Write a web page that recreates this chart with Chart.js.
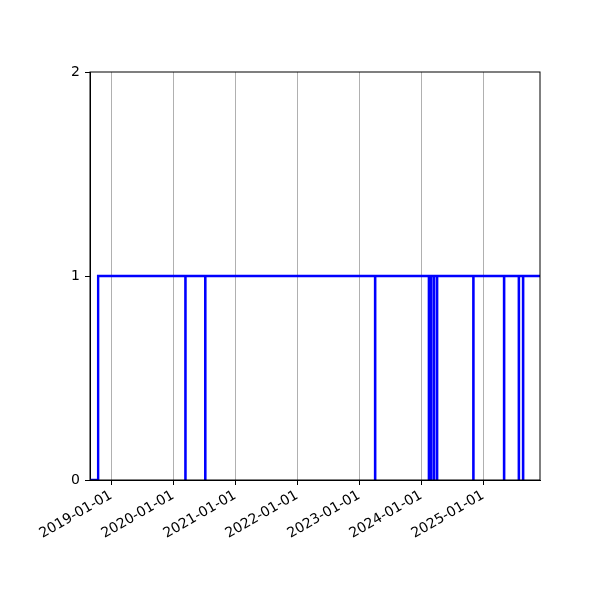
<!DOCTYPE html>
<html>
<head>
<meta charset="utf-8">
<script src="https://cdn.jsdelivr.net/npm/chart.js@4"></script>
<style>
  html, body { margin: 0; padding: 0; background: #fff; }
</style>
</head>
<body>
<canvas id="stepChart" width="600" height="600"></canvas>
<script>
// step series: value holds from each date until the next one
const stepDates = [
  '2018-08-29', '2018-10-16',
  '2020-03-13', '2020-03-14',
  '2020-07-08', '2020-07-09',
  '2023-04-05', '2023-04-06',
  '2024-02-16', '2024-03-01',
  '2024-03-17', '2024-03-18',
  '2024-04-04', '2024-04-05',
  '2024-11-04', '2024-11-05',
  '2025-05-04', '2025-05-05',
  '2025-07-30', '2025-07-31',
  '2025-08-24', '2025-08-25',
  '2025-12-02'
];
const stepValues = [
  0, 1,
  0, 1,
  0, 1,
  0, 1,
  0, 1,
  0, 1,
  0, 1,
  0, 1,
  0, 1,
  0, 1,
  0, 1,
  1
];
const xStart = '2018-08-29';
const xEnd = '2025-12-02';
const yearTicks = ['2019-01-01', '2020-01-01', '2021-01-01', '2022-01-01', '2023-01-01', '2024-01-01', '2025-01-01'];
const yTicks = [0, 1, 2];

const toMs = s => Date.parse(s + 'T00:00:00Z');
const pad2 = n => String(n).padStart(2, '0');
const fmtDate = ms => {
  const d = new Date(ms);
  return d.getUTCFullYear() + '-' + pad2(d.getUTCMonth() + 1) + '-' + pad2(d.getUTCDate());
};

const points = stepDates.map((d, i) => ({x: toMs(d), y: stepValues[i]}));

// matplotlib style frame round the plot area
const frameBox = {
  id: 'frameBox',
  afterDatasetsDraw(chart) {
    const a = chart.chartArea;
    const ctx = chart.ctx;
    ctx.save();
    ctx.strokeStyle = '#000';
    ctx.lineWidth = 1;
    ctx.strokeRect(a.left, a.top, a.right - a.left, a.bottom - a.top);
    ctx.restore();
  }
};

const tickFont = {family: 'DejaVu Sans', size: 14};

new Chart(document.getElementById('stepChart').getContext('2d'), {
  type: 'line',
  data: {
    datasets: [{
      data: points,
      borderColor: '#0000ff',
      borderWidth: 2.4,
      pointRadius: 0,
      stepped: true,
      fill: false
    }]
  },
  options: {
    responsive: false,
    animation: false,
    devicePixelRatio: 1,
    layout: {padding: {top: 72, right: 60, left: 0, bottom: 0}},
    plugins: {legend: {display: false}, tooltip: {enabled: false}},
    scales: {
      x: {
        type: 'linear',
        min: toMs(xStart),
        max: toMs(xEnd),
        afterBuildTicks: scale => { scale.ticks = yearTicks.map(t => ({value: toMs(t)})); },
        afterFit: scale => { scale.height = 120; },
        ticks: {
          callback: v => fmtDate(v),
          color: '#000',
          font: tickFont,
          minRotation: 30,
          maxRotation: 30,
          padding: 2,
          autoSkip: false
        },
        grid: {color: '#b0b0b0', lineWidth: 1, tickColor: '#000', tickLength: 5},
        border: {color: '#000', width: 1}
      },
      y: {
        min: 0,
        max: 2,
        afterBuildTicks: scale => { scale.ticks = yTicks.map(v => ({value: v})); },
        afterFit: scale => { scale.width = 90; },
        ticks: {color: '#000', font: tickFont, padding: 5},
        grid: {drawOnChartArea: false, tickColor: '#000', tickLength: 5},
        border: {color: '#000', width: 1}
      }
    }
  },
  plugins: [frameBox]
});
</script>
</body>
</html>
